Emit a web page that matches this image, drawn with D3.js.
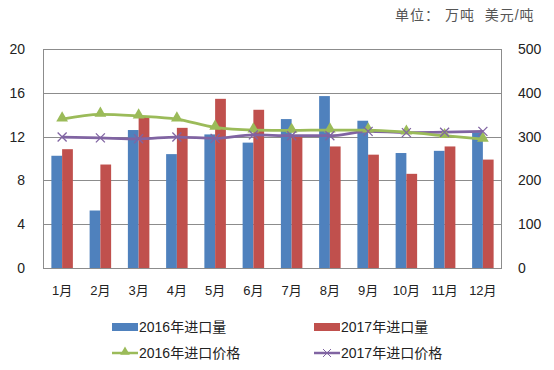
<!DOCTYPE html>
<html>
<head>
<meta charset="utf-8">
<script src="https://cdn.jsdelivr.net/npm/d3@7"></script>
<style>
  body { margin: 0; background: #fff; }
  text { font-family: "Liberation Sans", "Noto Sans CJK SC", sans-serif; fill: #222; }
</style>
</head>
<body>
<svg id="chart" width="554" height="370"></svg>
<script>
// months and series
var months = ["1月","2月","3月","4月","5月","6月","7月","8月","9月","10月","11月","12月"];
var vol2016 = [10.25, 5.25, 12.6, 10.4, 12.2, 11.45, 13.6, 15.7, 13.45, 10.5, 10.7, 12.4];
var vol2017 = [10.85, 9.45, 13.8, 12.8, 15.45, 14.45, 12.0, 11.1, 10.35, 8.6, 11.1, 9.9];
var price2016 = [340, 351, 347, 340, 321, 315, 314, 315, 315, 310, 302, 294];
var price2017 = [299, 297, 295, 299, 296, 304, 302, 302, 312, 309, 310, 312];
var leftTicks = [0, 4, 8, 12, 16, 20];
var rightTicks = [0, 100, 200, 300, 400, 500];

var colors = {v16: "#4F81BD", v17: "#C0504D", p16: "#9BBB59", p17: "#8064A2"};

var svg = d3.select("#chart");
var margin = {top: 49, right: 52, bottom: 102, left: 43},
    width = 554 - margin.left - margin.right,
    height = 370 - margin.top - margin.bottom;

var g = svg.append("g")
    .attr("transform", "translate(" + margin.left + "," + margin.top + ")");

var x = d3.scaleBand().domain(months).range([0, width]);
var xs = d3.scaleBand().domain(["a", "b"]).range([0, 21.5]);
var y = d3.scaleLinear().domain([0, 20]).range([height, 0]);
var y2 = d3.scaleLinear().domain([0, 500]).range([height, 0]);

// grid
g.selectAll(".grid").data(leftTicks).enter().append("line")
    .attr("x1", 0).attr("x2", width)
    .attr("y1", function(d) { return Math.round(y(d)) + 0.5; })
    .attr("y2", function(d) { return Math.round(y(d)) + 0.5; })
    .attr("stroke", "#8c8c8c").attr("stroke-width", 1);

// frame sides
g.append("line").attr("x1", 0.5).attr("x2", 0.5).attr("y1", 0).attr("y2", height)
    .attr("stroke", "#8c8c8c");
g.append("line").attr("x1", width - 0.5).attr("x2", width - 0.5).attr("y1", 0).attr("y2", height)
    .attr("stroke", "#8c8c8c");

// left labels
g.selectAll(".ly").data(leftTicks).enter().append("text")
    .attr("x", -18).attr("y", function(d) { return y(d) + 5; })
    .attr("text-anchor", "end").attr("font-size", 14)
    .text(function(d) { return d; });

// right labels
g.selectAll(".ry").data(rightTicks).enter().append("text")
    .attr("x", width + 16).attr("y", function(d) { return y2(d) + 5; })
    .attr("text-anchor", "start").attr("font-size", 14)
    .text(function(d) { return d; });

// month labels
g.selectAll(".mx").data(months).enter().append("text")
    .attr("x", function(d) { return x(d) + x.bandwidth() / 2; })
    .attr("y", height + 27)
    .attr("text-anchor", "middle").attr("font-size", 13)
    .text(function(d) { return d; });

var off = (x.bandwidth() - 21.5) / 2;

g.selectAll(".b16").data(vol2016).enter().append("rect")
    .attr("x", function(d, i) { return x(months[i]) + off + xs("a"); })
    .attr("width", xs.bandwidth())
    .attr("y", function(d) { return y(d); })
    .attr("height", function(d) { return height - y(d); })
    .attr("fill", colors.v16);

g.selectAll(".b17").data(vol2017).enter().append("rect")
    .attr("x", function(d, i) { return x(months[i]) + off + xs("b"); })
    .attr("width", xs.bandwidth())
    .attr("y", function(d) { return y(d); })
    .attr("height", function(d) { return height - y(d); })
    .attr("fill", colors.v17);

var line = d3.line()
    .x(function(d, i) { return x(months[i]) + x.bandwidth() / 2; })
    .y(function(d) { return y2(d); })
    .curve(d3.curveMonotoneX);

g.append("path").datum(price2017).attr("d", line)
    .attr("fill", "none").attr("stroke", colors.p17).attr("stroke-width", 2.75);
g.append("path").datum(price2016).attr("d", line)
    .attr("fill", "none").attr("stroke", colors.p16).attr("stroke-width", 2.75);

var tri = d3.symbol().type(d3.symbolTriangle).size(60);

g.selectAll(".m16").data(price2016).enter().append("path")
    .attr("d", tri)
    .attr("transform", function(d, i) {
        return "translate(" + (x(months[i]) + x.bandwidth() / 2) + "," + (y2(d) - 1) + ")";
    })
    .attr("fill", colors.p16);

g.selectAll(".m17").data(price2017).enter().append("path")
    .attr("d", "M-4.5,-4.5L4.5,4.5M-4.5,4.5L4.5,-4.5")
    .attr("transform", function(d, i) {
        return "translate(" + (x(months[i]) + x.bandwidth() / 2) + "," + y2(d) + ")";
    })
    .attr("stroke", colors.p17).attr("stroke-width", 1.3).attr("fill", "none");

// unit note
svg.append("text").attr("x", 395).attr("y", 20)
    .attr("font-size", 14).attr("letter-spacing", 1).style("fill", "#555")
    .style("white-space", "pre")
    .text("单位： 万吨  美元/吨");

// legend
var legend = [
    {name: "2016年进口量", type: "bar", color: colors.v16, x: 112, y: 327},
    {name: "2017年进口量", type: "bar", color: colors.v17, x: 314, y: 327},
    {name: "2016年进口价格", type: "tri", color: colors.p16, x: 112, y: 353},
    {name: "2017年进口价格", type: "x", color: colors.p17, x: 314, y: 353}
];
var lg = svg.selectAll(".lg").data(legend).enter().append("g")
    .attr("transform", function(d) { return "translate(" + d.x + "," + d.y + ")"; });
lg.filter(function(d) { return d.type == "bar"; }).append("rect")
    .attr("x", 0).attr("y", -4).attr("width", 26).attr("height", 8)
    .attr("fill", function(d) { return d.color; });
lg.filter(function(d) { return d.type != "bar"; }).append("line")
    .attr("x1", 0).attr("x2", 26).attr("y1", 0).attr("y2", 0)
    .attr("stroke", function(d) { return d.color; }).attr("stroke-width", 2.5);
lg.filter(function(d) { return d.type == "tri"; }).append("path")
    .attr("d", d3.symbol().type(d3.symbolTriangle).size(40))
    .attr("transform", "translate(13,-1)")
    .attr("fill", function(d) { return d.color; });
lg.filter(function(d) { return d.type == "x"; }).append("path")
    .attr("d", "M9,-4L17,4M9,4L17,-4")
    .attr("stroke", function(d) { return d.color; }).attr("stroke-width", 1);
lg.append("text").attr("x", 27).attr("y", 5)
    .attr("font-size", 14)
    .text(function(d) { return d.name; });
</script>
</body>
</html>
